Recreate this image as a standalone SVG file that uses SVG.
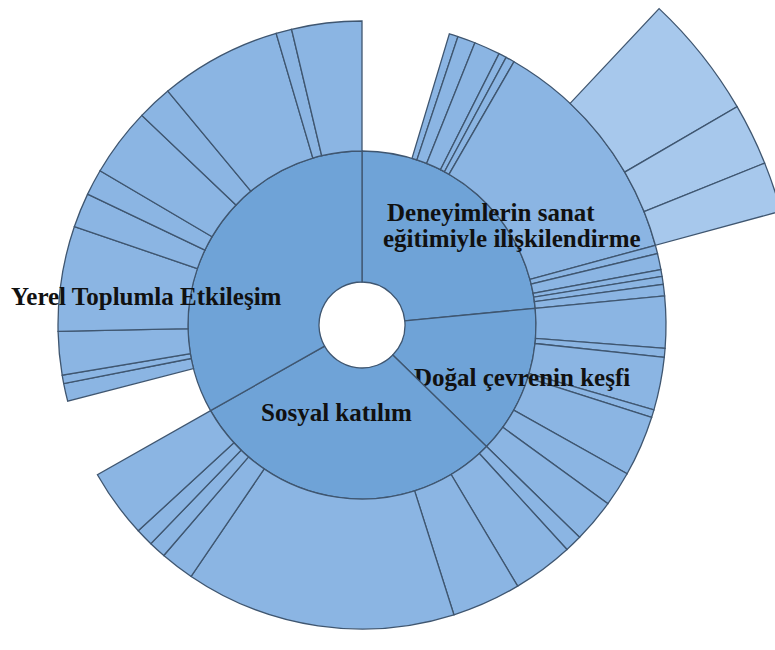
<svg xmlns="http://www.w3.org/2000/svg" width="775" height="650" viewBox="0 0 775 650">
<style>
.in{fill:#6fa3d7;stroke:#3f5670;stroke-width:1.3}
.out{fill:#8bb5e3;stroke:#3f5670;stroke-width:1.3}
.third{fill:#a7c8ec;stroke:#3f5670;stroke-width:1.3}
.lbl{font-family:"Liberation Serif","Times New Roman",serif;font-weight:bold;font-size:25px;fill:#111}
</style>
<rect width="775" height="650" fill="#fff"/>
<g id="deneyimlerin">
<path class="in" d="M362,151 A174,174 0 0 1 535.20,308.32 L404.80,320.88 A43,43 0 0 0 362,282 Z"/>
<path class="out" d="M449.36,33.82 A304,304 0 0 1 457.96,36.53 L416.92,159.89 A174,174 0 0 0 412.00,158.34 Z"/>
<path class="out" d="M457.96,36.53 A304,304 0 0 1 474.90,42.74 L426.62,163.44 A174,174 0 0 0 416.92,159.89 Z"/>
<path class="out" d="M474.90,42.74 A304,304 0 0 1 499.07,53.65 L440.45,169.69 A174,174 0 0 0 426.62,163.44 Z"/>
<path class="out" d="M499.07,53.65 A304,304 0 0 1 506.12,57.33 L444.49,171.79 A174,174 0 0 0 440.45,169.69 Z"/>
<path class="out" d="M506.12,57.33 A304,304 0 0 1 514,61.73 L449,174.31 A174,174 0 0 0 444.49,171.79 Z"/>
<path class="out" d="M514,61.73 A304,304 0 0 1 655.37,245.29 L529.92,279.38 A174,174 0 0 0 449,174.31 Z"/>
<path class="out" d="M655.37,245.29 A304,304 0 0 1 657.48,253.51 L531.13,284.08 A174,174 0 0 0 529.92,279.38 Z"/>
<path class="out" d="M657.48,253.51 A304,304 0 0 1 660.91,269.60 L533.09,293.29 A174,174 0 0 0 531.13,284.08 Z"/>
<path class="out" d="M660.91,269.60 A304,304 0 0 1 662.09,276.40 L533.76,297.18 A174,174 0 0 0 533.09,293.29 Z"/>
<path class="out" d="M662.09,276.40 A304,304 0 0 1 663.26,284.27 L534.43,301.69 A174,174 0 0 0 533.76,297.18 Z"/>
<path class="out" d="M663.26,284.27 A304,304 0 0 1 664.60,295.86 L535.20,308.32 A174,174 0 0 0 534.43,301.69 Z"/>
<path class="third" d="M659.09,8.63 A434,434 0 0 1 737.10,106.69 L624.74,172.08 A304,304 0 0 0 570.10,103.39 Z"/>
<path class="third" d="M737.10,106.69 A434,434 0 0 1 764.68,163.12 L644.06,211.61 A304,304 0 0 0 624.74,172.08 Z"/>
<path class="third" d="M764.68,163.12 A434,434 0 0 1 780.82,211.21 L655.37,245.29 A304,304 0 0 0 644.06,211.61 Z"/>
<text class="lbl" x="387" y="221">Deneyimlerin sanat</text>
<text class="lbl" x="383" y="247">eğitimiyle ilişkilendirme</text>
</g>
<g id="dogal">
<path class="in" d="M535.20,308.32 A174,174 0 0 1 486.53,446.53 L392.78,355.03 A43,43 0 0 0 404.80,320.88 Z"/>
<path class="out" d="M664.60,295.86 A304,304 0 0 1 665.10,348.32 L535.49,338.35 A174,174 0 0 0 535.20,308.32 Z"/>
<path class="out" d="M665.10,348.32 A304,304 0 0 1 664.28,357.31 L535.02,343.49 A174,174 0 0 0 535.49,338.35 Z"/>
<path class="out" d="M664.28,357.31 A304,304 0 0 1 653.93,409.82 L529.09,373.55 A174,174 0 0 0 535.02,343.49 Z"/>
<path class="out" d="M653.93,409.82 A304,304 0 0 1 651.61,417.43 L527.77,377.90 A174,174 0 0 0 529.09,373.55 Z"/>
<path class="out" d="M651.61,417.43 A304,304 0 0 1 627.11,473.77 L513.74,410.15 A174,174 0 0 0 527.77,377.90 Z"/>
<path class="out" d="M627.11,473.77 A304,304 0 0 1 607.94,503.69 L502.77,427.28 A174,174 0 0 0 513.74,410.15 Z"/>
<path class="out" d="M607.94,503.69 A304,304 0 0 1 579.57,537.32 L486.53,446.53 A174,174 0 0 0 502.77,427.28 Z"/>
<text class="lbl" x="414" y="386">Doğal çevrenin keşfi</text>
</g>
<g id="sosyal">
<path class="in" d="M486.53,446.53 A174,174 0 0 1 210.56,410.68 L324.57,346.17 A43,43 0 0 0 392.78,355.03 Z"/>
<path class="out" d="M579.57,537.32 A304,304 0 0 1 566.99,549.49 L479.33,453.49 A174,174 0 0 0 486.53,446.53 Z"/>
<path class="out" d="M566.99,549.49 A304,304 0 0 1 517.66,586.13 L451.10,474.46 A174,174 0 0 0 479.33,453.49 Z"/>
<path class="out" d="M517.66,586.13 A304,304 0 0 1 453.92,614.78 L414.61,490.86 A174,174 0 0 0 451.10,474.46 Z"/>
<path class="out" d="M453.92,614.78 A304,304 0 0 1 191.13,576.44 L264.20,468.91 A174,174 0 0 0 414.61,490.86 Z"/>
<path class="out" d="M191.13,576.44 A304,304 0 0 1 163.76,555.48 L248.53,456.92 A174,174 0 0 0 264.20,468.91 Z"/>
<path class="out" d="M163.76,555.48 A304,304 0 0 1 150.82,543.68 L241.13,450.17 A174,174 0 0 0 248.53,456.92 Z"/>
<path class="out" d="M150.82,543.68 A304,304 0 0 1 138.22,530.77 L233.92,442.78 A174,174 0 0 0 241.13,450.17 Z"/>
<path class="out" d="M138.22,530.77 A304,304 0 0 1 97.41,474.70 L210.56,410.68 A174,174 0 0 0 233.92,442.78 Z"/>
<text class="lbl" x="261" y="421">Sosyal katılım</text>
</g>
<g id="yerel">
<path class="in" d="M210.56,410.68 A174,174 0 0 1 362,151 L362,282 A43,43 0 0 0 324.57,346.17 Z"/>
<path class="out" d="M67.68,401.12 A304,304 0 0 1 63.69,383.53 L191.26,358.50 A174,174 0 0 0 193.54,368.57 Z"/>
<path class="out" d="M63.69,383.53 A304,304 0 0 1 62.17,375.18 L190.39,353.72 A174,174 0 0 0 191.26,358.50 Z"/>
<path class="out" d="M62.17,375.18 A304,304 0 0 1 58.07,331.37 L188.04,328.64 A174,174 0 0 0 190.39,353.72 Z"/>
<path class="out" d="M58.07,331.37 A304,304 0 0 1 74.39,226.53 L197.38,268.64 A174,174 0 0 0 188.04,328.64 Z"/>
<path class="out" d="M74.39,226.53 A304,304 0 0 1 87.61,194.12 L204.95,250.09 A174,174 0 0 0 197.38,268.64 Z"/>
<path class="out" d="M87.61,194.12 A304,304 0 0 1 100.06,170.71 L212.08,236.69 A174,174 0 0 0 204.95,250.09 Z"/>
<path class="out" d="M100.06,170.71 A304,304 0 0 1 141.85,115.36 L235.99,205.00 A174,174 0 0 0 212.08,236.69 Z"/>
<path class="out" d="M141.85,115.36 A304,304 0 0 1 167.81,91.10 L250.85,191.12 A174,174 0 0 0 235.99,205.00 Z"/>
<path class="out" d="M167.81,91.10 A304,304 0 0 1 276.17,33.37 L312.87,158.08 A174,174 0 0 0 250.85,191.12 Z"/>
<path class="out" d="M276.17,33.37 A304,304 0 0 1 291.55,29.27 L321.68,155.74 A174,174 0 0 0 312.87,158.08 Z"/>
<path class="out" d="M291.55,29.27 A304,304 0 0 1 362,21 L362,151 A174,174 0 0 0 321.68,155.74 Z"/>
<text class="lbl" x="11" y="305">Yerel Toplumla Etkileşim</text>
</g>
</svg>
